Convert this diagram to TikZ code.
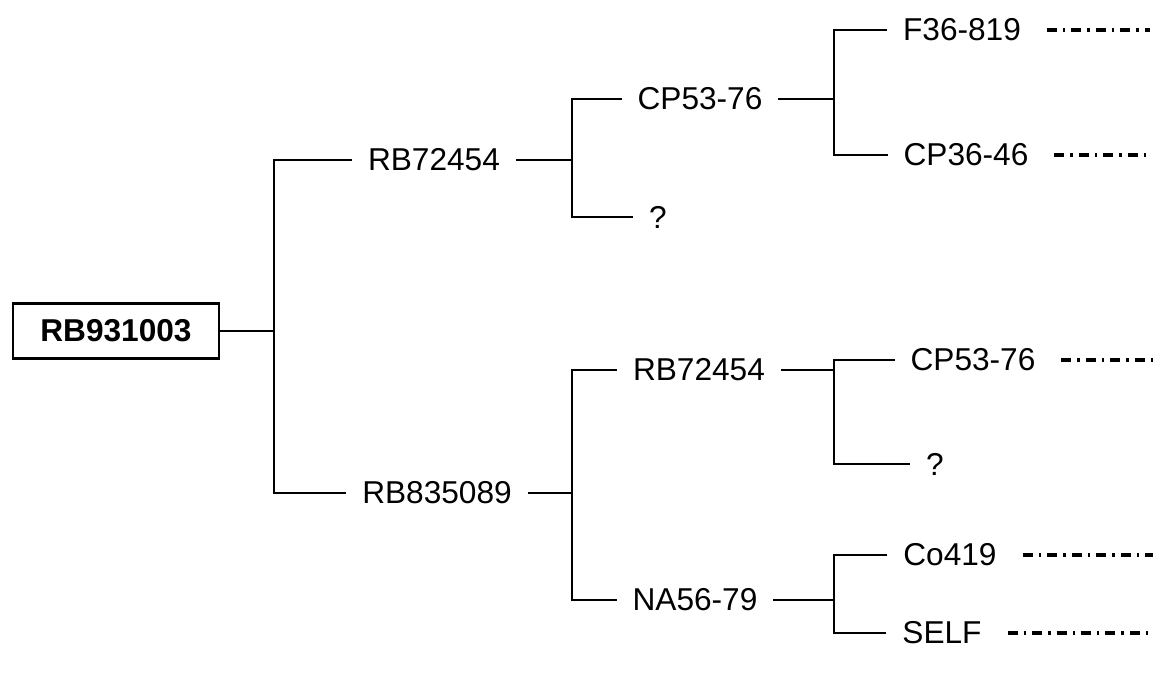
\documentclass[tikz,border=0pt]{standalone}
\usepackage{fontspec}
\setmainfont{Liberation Sans}
\usepackage{tikz}

\begin{document}
\begin{tikzpicture}[x=0.02cm, y=-0.02cm, line width=1.1pt,
  every node/.style={font=\fontsize{18}{20}\selectfont},
  lbl/.style={inner xsep=0.3cm, inner ysep=0pt},
  rootbox/.style={draw, line width=1.3pt, minimum width=4.12cm, minimum height=1.1cm, font=\fontsize{18}{20}\selectfont\bfseries},
  trail/.style={line width=2.2pt, dash pattern=on 0.2cm off 0.12cm on 0.05cm off 0.12cm}]
  \useasboundingbox (0,0) rectangle (1164,675);

  % Root
  \node[rootbox] (root) at (116,331) {RB931003};
  \coordinate (j0) at (274,331);
  \draw (root.east) -- (j0);

  % First generation
  \node[lbl] (rbA) at (434,160) {RB72454};
  \node[lbl] (rbB) at (437,493) {RB835089};
  \draw (rbA.west) -| (j0) |- (rbB.west);

  % Upper branch
  \coordinate (j1) at (572,160);
  \draw (rbA.east) -- (j1);
  \node[lbl] (cpA) at (700,99) {CP53-76};
  \node[lbl] (qA) at (658,217) {?};
  \draw (cpA.west) -| (j1) |- (qA.west);

  \coordinate (j2) at (834,99);
  \draw (cpA.east) -- (j2);
  \node[lbl] (fA) at (962,30) {F36-819};
  \node[lbl] (cpB) at (966,155) {CP36-46};
  \draw (fA.west) -| (j2) |- (cpB.west);

  % Lower branch
  \coordinate (j3) at (572,493);
  \draw (rbB.east) -- (j3);
  \node[lbl] (rbC) at (699,370) {RB72454};
  \node[lbl] (naA) at (695,600) {NA56-79};
  \draw (rbC.west) -| (j3) |- (naA.west);

  \coordinate (j4) at (834,370);
  \draw (rbC.east) -- (j4);
  \node[lbl] (cpC) at (973,360) {CP53-76};
  \node[lbl] (qB) at (935,464) {?};
  \draw (cpC.west) -| (j4) |- (qB.west);

  \coordinate (j5) at (834,600);
  \draw (naA.east) -- (j5);
  \node[lbl] (coA) at (950,555) {Co419};
  \node[lbl] (self) at (942,633) {SELF};
  \draw (coA.west) -| (j5) |- (self.west);

  % Unknown ancestry
  \coordinate (fAend) at (1150,30);
  \coordinate (cpBend) at (1152,155);
  \coordinate (cpCend) at (1156,360);
  \coordinate (coAend) at (1153,555);
  \coordinate (selfend) at (1153,633);
  \draw[trail] ([xshift=0.2cm]fA.east) -- (fAend);
  \draw[trail] ([xshift=0.2cm]cpB.east) -- (cpBend);
  \draw[trail] ([xshift=0.2cm]cpC.east) -- (cpCend);
  \draw[trail] ([xshift=0.2cm]coA.east) -- (coAend);
  \draw[trail] ([xshift=0.2cm]self.east) -- (selfend);
\end{tikzpicture}
\end{document}
